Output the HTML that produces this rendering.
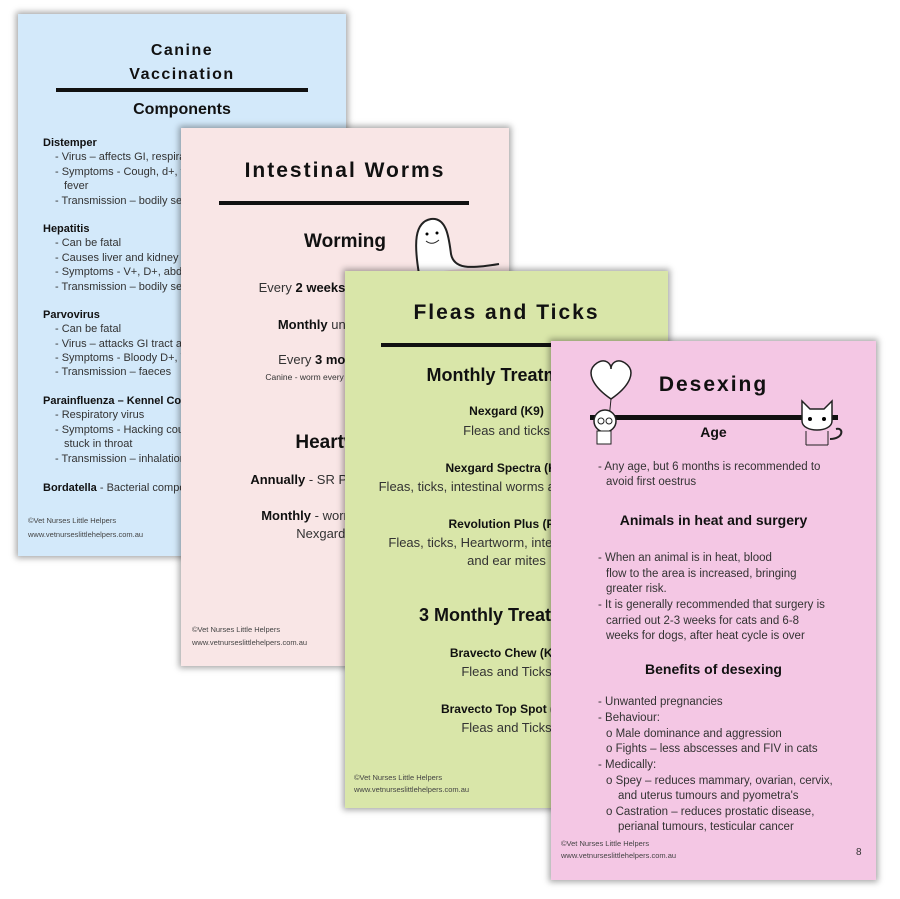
<!DOCTYPE html>
<html><head><meta charset="utf-8"><style>
*{margin:0;padding:0;box-sizing:border-box}
body{width:900px;height:899px;background:#fff;position:relative;overflow:hidden;font-family:"Liberation Sans",sans-serif;color:#333}
.c{position:absolute;overflow:hidden;box-shadow:0 0 6px 2px rgba(0,0,0,.35)}
.t{position:absolute;white-space:nowrap;font-size:11px;line-height:16px}
.cen{left:0;right:0;text-align:center}
.h{font-weight:bold;color:#111;line-height:24px}
.b{font-weight:bold;color:#111}
.ln{position:absolute;background:#111}
.f{font-size:7.5px;line-height:12px;color:#444}
.m{font-size:13px}
</style></head><body>

<div class="c" style="left:18px;top:14px;width:328px;height:542px;background:#d3e9fa">
<div class="t cen h" style="top:25px;font-size:16px;letter-spacing:1.5px">Canine</div>
<div class="t cen h" style="top:49px;font-size:16px;letter-spacing:1.5px">Vaccination</div>
<div class="ln" style="top:74px;left:38px;width:252px;height:4px"></div>
<div class="t cen h" style="top:84px;font-size:16px">Components</div>
<div class="t b" style="top:121px;left:25px">Distemper</div>
<div class="t" style="top:135px;left:37px">- Virus – affects GI, respiratory</div>
<div class="t" style="top:150px;left:37px">- Symptoms - Cough, d+, v+,</div>
<div class="t" style="top:164px;left:46px">fever</div>
<div class="t" style="top:179px;left:37px">- Transmission – bodily secretions</div>
<div class="t b" style="top:207px;left:25px">Hepatitis</div>
<div class="t" style="top:221px;left:37px">- Can be fatal</div>
<div class="t" style="top:236px;left:37px">- Causes liver and kidney damage</div>
<div class="t" style="top:250px;left:37px">- Symptoms - V+, D+, abdominal</div>
<div class="t" style="top:265px;left:37px">- Transmission – bodily secretions</div>
<div class="t b" style="top:293px;left:25px">Parvovirus</div>
<div class="t" style="top:307px;left:37px">- Can be fatal</div>
<div class="t" style="top:322px;left:37px">- Virus – attacks GI tract and</div>
<div class="t" style="top:336px;left:37px">- Symptoms - Bloody D+, V+</div>
<div class="t" style="top:350px;left:37px">- Transmission – faeces</div>
<div class="t b" style="top:379px;left:25px">Parainfluenza – Kennel Cough</div>
<div class="t" style="top:393px;left:37px">- Respiratory virus</div>
<div class="t" style="top:408px;left:37px">- Symptoms - Hacking cough,</div>
<div class="t" style="top:422px;left:46px">stuck in throat</div>
<div class="t" style="top:437px;left:37px">- Transmission – inhalation</div>
<div class="t" style="top:466px;left:25px"><b style="color:#111">Bordatella</b> - Bacterial component</div>
<div class="t f" style="top:501px;left:10px">©Vet Nurses Little Helpers</div>
<div class="t f" style="top:515px;left:10px">www.vetnurseslittlehelpers.com.au</div>
</div>

<div class="c" style="left:181px;top:128px;width:328px;height:538px;background:#f9e6e6">
<div class="t cen h" style="top:31px;font-size:21px;letter-spacing:2px">Intestinal Worms</div>
<div class="ln" style="top:73px;left:38px;width:250px;height:4px"></div>
<div class="t cen h" style="top:102px;font-size:19px">Worming</div>
<svg style="position:absolute;left:228px;top:86px" width="95" height="65"><path d="M10 60 C5 30 5 8 22 5 C38 3 40 25 42 40 C45 55 60 55 90 50" fill="#fff" stroke="#222" stroke-width="2"/><circle cx="18" cy="20" r="1.5"/><circle cx="28" cy="19" r="1.5"/><path d="M17 27 Q23 32 30 26" fill="none" stroke="#222"/></svg>
<div class="t cen m" style="top:152px">Every <b class="b">2 weeks</b> until 12 weeks</div>
<div class="t cen m" style="top:189px"><b class="b">Monthly</b> until 6 months</div>
<div class="t cen m" style="top:224px">Every <b class="b">3 months</b> for life</div>
<div class="t cen" style="top:241px;font-size:8.5px">Canine - worm every month for heartworm</div>
<div class="t cen h" style="top:303px;font-size:19px">Heartworm</div>
<div class="t cen m" style="top:344px"><b class="b">Annually</b> - SR Proheart injection</div>
<div class="t cen m" style="top:380px"><b class="b">Monthly</b> - worming tablets or</div>
<div class="t cen m" style="top:398px">Nexgard Spectra</div>
<div class="t f" style="top:496px;left:11px">©Vet Nurses Little Helpers</div>
<div class="t f" style="top:509px;left:11px">www.vetnurseslittlehelpers.com.au</div>
</div>

<div class="c" style="left:345px;top:271px;width:323px;height:537px;background:#d9e6a9">
<div class="t cen h" style="top:30px;font-size:21px;letter-spacing:2px">Fleas and Ticks</div>
<div class="ln" style="top:72px;left:36px;width:255px;height:4px"></div>
<div class="t cen h" style="top:92px;font-size:18px">Monthly Treatment</div>
<div class="t cen b" style="top:132px;font-size:12px">Nexgard (K9)</div>
<div class="t cen m" style="top:152px">Fleas and ticks</div>
<div class="t cen b" style="top:189px;font-size:12px">Nexgard Spectra (K9)</div>
<div class="t cen m" style="top:208px">Fleas, ticks, intestinal worms and heartworm</div>
<div class="t cen b" style="top:245px;font-size:12px">Revolution Plus (F9)</div>
<div class="t cen m" style="top:264px">Fleas, ticks, Heartworm, intestinal worms</div>
<div class="t cen m" style="top:282px">and ear mites</div>
<div class="t cen h" style="top:332px;font-size:18px">3 Monthly Treatment</div>
<div class="t cen b" style="top:374px;font-size:12px">Bravecto Chew (K9)</div>
<div class="t cen m" style="top:393px">Fleas and Ticks</div>
<div class="t cen b" style="top:430px;font-size:12px">Bravecto Top Spot (F9)</div>
<div class="t cen m" style="top:449px">Fleas and Ticks</div>
<div class="t f" style="top:501px;left:9px">©Vet Nurses Little Helpers</div>
<div class="t f" style="top:513px;left:9px">www.vetnurseslittlehelpers.com.au</div>
</div>

<div class="c" style="left:551px;top:341px;width:325px;height:539px;background:#f4c7e4">
<div class="t cen h" style="top:32px;font-size:21px;letter-spacing:2px">Desexing</div>
<div class="ln" style="top:74px;left:39px;width:248px;height:5px"></div>
<svg style="position:absolute;left:36px;top:10px" width="60" height="100"><path d="M24 48 C5 35 -2 20 10 12 C18 7 24 12 24 18 C24 12 30 7 38 12 C50 20 43 35 24 48Z" fill="#fff" stroke="#222" stroke-width="1.5"/><path d="M24 48 L22 68" stroke="#222"/><circle cx="18" cy="70" r="11" fill="#fff" stroke="#222" stroke-width="1.5"/><circle cx="14" cy="70" r="3" fill="none" stroke="#222"/><circle cx="22" cy="70" r="3" fill="none" stroke="#222"/><rect x="10" y="80" width="14" height="13" fill="#fff" stroke="#222"/></svg>
<svg style="position:absolute;left:243px;top:52px" width="55" height="55"><path d="M8 28 L8 8 L16 16 L30 16 L38 8 L38 28 C38 40 8 40 8 28Z" fill="#fff" stroke="#222" stroke-width="1.5"/><circle cx="16" cy="26" r="2"/><circle cx="30" cy="26" r="2"/><path d="M12 38 L12 52 M34 38 L34 52 M12 52 L34 52" stroke="#222" fill="none"/><path d="M36 46 C50 46 50 34 42 36" fill="none" stroke="#222" stroke-width="2"/></svg>
<div class="t cen b" style="top:83px;font-size:14px">Age</div>
<div class="t" style="top:118px;left:47px;font-size:11.5px">- Any age, but 6 months is recommended to</div>
<div class="t" style="top:133px;left:55px;font-size:11.5px">avoid first oestrus</div>
<div class="t cen b" style="top:171px;font-size:14px">Animals in heat and surgery</div>
<div class="t" style="top:209px;left:47px;font-size:11.5px">- When an animal is in heat, blood</div>
<div class="t" style="top:225px;left:55px;font-size:11.5px">flow to the area is increased, bringing</div>
<div class="t" style="top:240px;left:55px;font-size:11.5px">greater risk.</div>
<div class="t" style="top:256px;left:47px;font-size:11.5px">- It is generally recommended that surgery is</div>
<div class="t" style="top:272px;left:55px;font-size:11.5px">carried out 2-3 weeks for cats and 6-8</div>
<div class="t" style="top:287px;left:55px;font-size:11.5px">weeks for dogs, after heat cycle is over</div>
<div class="t cen b" style="top:320px;font-size:14px">Benefits of desexing</div>
<div class="t" style="top:353px;left:47px;font-size:11.5px">- Unwanted pregnancies</div>
<div class="t" style="top:369px;left:47px;font-size:11.5px">- Behaviour:</div>
<div class="t" style="top:385px;left:55px;font-size:11.5px">o Male dominance and aggression</div>
<div class="t" style="top:400px;left:55px;font-size:11.5px">o Fights – less abscesses and FIV in cats</div>
<div class="t" style="top:416px;left:47px;font-size:11.5px">- Medically:</div>
<div class="t" style="top:432px;left:55px;font-size:11.5px">o Spey – reduces mammary, ovarian, cervix,</div>
<div class="t" style="top:447px;left:67px;font-size:11.5px">and uterus tumours and pyometra's</div>
<div class="t" style="top:463px;left:55px;font-size:11.5px">o Castration – reduces prostatic disease,</div>
<div class="t" style="top:478px;left:67px;font-size:11.5px">perianal tumours, testicular cancer</div>
<div class="t f" style="top:497px;left:10px">©Vet Nurses Little Helpers</div>
<div class="t f" style="top:509px;left:10px">www.vetnurseslittlehelpers.com.au</div>
<div class="t" style="top:504px;left:305px;font-size:10px">8</div>
</div>
</body></html>
